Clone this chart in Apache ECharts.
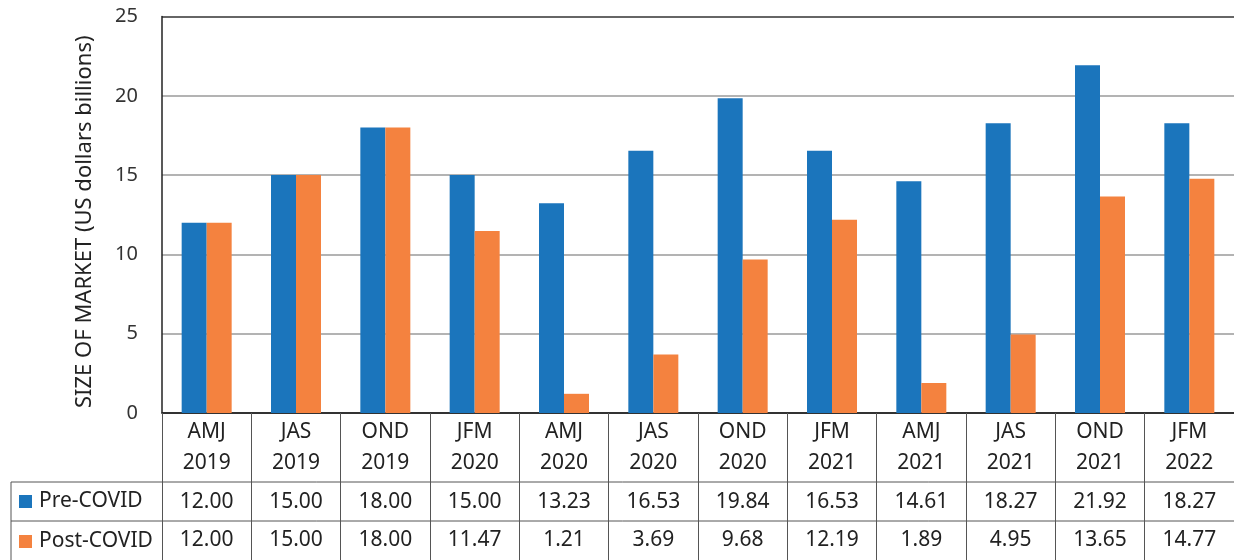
<!DOCTYPE html>
<html>
<head>
<meta charset="utf-8">
<script src="https://cdn.jsdelivr.net/npm/echarts@6/dist/echarts.min.js"></script>
<style>
  html, body { margin: 0; padding: 0; background: #ffffff; }
  #chart { width: 1234px; height: 560px; }
</style>
</head>
<body>
<div id="chart"></div>
<script>
// Quarterly market size, pre- and post-COVID estimates
const quarters = ['AMJ', 'JAS', 'OND', 'JFM', 'AMJ', 'JAS', 'OND', 'JFM', 'AMJ', 'JAS', 'OND', 'JFM'];
const years = ['2019', '2019', '2019', '2020', '2020', '2020', '2020', '2021', '2021', '2021', '2021', '2022'];
const preCovid = [12.00, 15.00, 18.00, 15.00, 13.23, 16.53, 19.84, 16.53, 14.61, 18.27, 21.92, 18.27];
const postCovid = [12.00, 15.00, 18.00, 11.47, 1.21, 3.69, 9.68, 12.19, 1.89, 4.95, 13.65, 14.77];
const seriesNames = ['Pre-COVID', 'Post-COVID'];
const yTicks = [0, 5, 10, 15, 20, 25];

const categories = quarters.map((q, i) => q + '\n' + years[i]);
const fmt = v => v.toFixed(2);

const FONT = 'Noto Sans';
const BLUE = '#1b75bc';
const ORANGE = '#f4823f';
const TEXT = '#222222';
const FS = 21;

const chart = echarts.init(document.getElementById('chart'), null, { renderer: 'canvas' });

// Grid geometry
const gridLeft = 162, gridTop = 16.5, gridBottom = 147;
const H = 560, W = 1234;
const axisY = H - gridBottom;           // y of the zero line
const rowSplit1 = 482, rowSplit2 = 521; // table row borders
const tableLeft = 11;

const tableLine = { stroke: '#555555', lineWidth: 1 };

chart.setOption({
  animation: false,
  textStyle: { fontFamily: FONT },
  grid: { left: gridLeft, right: 0, top: gridTop, bottom: gridBottom, containLabel: false },
  legend: {
    data: seriesNames,
    orient: 'vertical',
    left: 19,
    top: 491,
    padding: 0,
    icon: 'rect',
    itemWidth: 13,
    itemHeight: 13,
    itemGap: 19,
    selectedMode: false,
    textStyle: { fontFamily: FONT, fontSize: FS, lineHeight: 20, color: TEXT, padding: [0, 0, 0, 2] }
  },
  xAxis: [
    {
      type: 'category',
      data: categories,
      position: 'bottom',
      axisLine: { show: true, lineStyle: { color: '#222222', width: 1.5 } },
      axisTick: { show: true, interval: 0, length: gridBottom, lineStyle: { color: '#555555', width: 1 } },
      axisLabel: { interval: 0, fontFamily: FONT, fontSize: FS, lineHeight: 31, margin: 4, color: TEXT }
    },
    {
      type: 'category',
      data: preCovid.map(fmt),
      position: 'bottom',
      offset: rowSplit1 - axisY,
      axisLine: { show: false },
      axisTick: { show: false },
      axisLabel: { interval: 0, fontFamily: FONT, fontSize: FS, margin: 20, verticalAlign: 'middle', color: TEXT }
    },
    {
      type: 'category',
      data: postCovid.map(fmt),
      position: 'bottom',
      offset: rowSplit2 - axisY,
      axisLine: { show: false },
      axisTick: { show: false },
      axisLabel: { interval: 0, fontFamily: FONT, fontSize: FS, margin: 19, verticalAlign: 'middle', color: TEXT }
    }
  ],
  yAxis: {
    type: 'value',
    min: yTicks[0],
    max: yTicks[yTicks.length - 1],
    interval: yTicks[1] - yTicks[0],
    name: 'SIZE OF MARKET (US dollars billions)',
    nameLocation: 'middle',
    nameGap: 66,
    nameRotate: 90,
    nameTextStyle: { fontFamily: FONT, fontSize: 22, color: TEXT, padding: [0, 14, 0, 0] },
    axisLine: { show: true, lineStyle: { color: '#222222', width: 1.5 } },
    axisTick: { show: false },
    axisLabel: { fontFamily: FONT, fontSize: FS - 1, margin: 24, color: '#333333' },
    splitLine: {
      show: true,
      lineStyle: { color: ['#333333', '#9a9a9a', '#9a9a9a', '#9a9a9a', '#9a9a9a', '#333333'], width: 1.5 }
    }
  },
  series: [
    {
      name: seriesNames[0],
      type: 'bar',
      xAxisIndex: 0,
      data: preCovid,
      barWidth: 25,
      barGap: '0%',
      itemStyle: { color: BLUE }
    },
    {
      name: seriesNames[1],
      type: 'bar',
      xAxisIndex: 0,
      data: postCovid,
      barWidth: 25,
      barGap: '0%',
      itemStyle: { color: ORANGE }
    }
  ],
  graphic: [
    // data table borders
    { type: 'line', silent: true, shape: { x1: tableLeft, y1: rowSplit1, x2: W, y2: rowSplit1 }, style: tableLine },
    { type: 'line', silent: true, shape: { x1: tableLeft, y1: rowSplit2, x2: W, y2: rowSplit2 }, style: tableLine },
    { type: 'line', silent: true, shape: { x1: tableLeft, y1: rowSplit1, x2: tableLeft, y2: H }, style: tableLine }
  ]
});
</script>
</body>
</html>
